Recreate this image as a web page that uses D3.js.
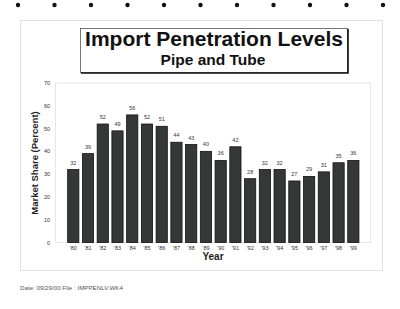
<!DOCTYPE html>
<html>
<head>
<meta charset="utf-8">
<script src="https://cdn.jsdelivr.net/npm/d3@7"></script>
<style>
  body { margin: 0; background: #fff; }
  svg { display: block; font-family: "Liberation Sans", Arial, sans-serif; }
</style>
</head>
<body>
<div id="chart"></div>
<script>
// chart values
var years = ["'80","'81","'82","'83","'84","'85","'86","'87","'88","'89",
             "'90","'91","'92","'93","'94","'95","'96","'97","'98","'99"];
var shares = [32, 39, 52, 49, 56, 52, 51, 44, 43, 40,
              36, 42, 28, 32, 32, 27, 29, 31, 35, 36];
var yTicks = [0, 10, 20, 30, 40, 50, 60, 70];

var w = 400, h = 309;
var svg = d3.select('#chart').append('svg')
    .attr('width', w)
    .attr('height', h);

svg.append('rect').attr('width', w).attr('height', h).style('fill', '#fff');

// binder holes along the top
d3.range(11).forEach(function(i) {
    svg.append('circle')
        .attr('cx', 18 + i * 36.5)
        .attr('cy', 5)
        .attr('r', 2.2)
        .style('fill', '#111');
});

// faint page frame
svg.append('rect')
    .attr('x', 20.5).attr('y', 20.5)
    .attr('width', 362).attr('height', 250)
    .style('fill', 'none')
    .style('stroke', '#e2e2e2');

// title box with shadowed right/bottom edges
svg.append('rect')
    .attr('x', 80.5).attr('y', 28.5)
    .attr('width', 267).attr('height', 44)
    .style('fill', '#fff')
    .style('stroke', '#555')
    .style('stroke-width', 0.8);
svg.append('path')
    .attr('d', 'M348,29 L348,73 L81,73')
    .style('fill', 'none')
    .style('stroke', '#111')
    .style('stroke-width', 1.6);

svg.append('text')
    .attr('x', 214).attr('y', 46)
    .style('text-anchor', 'middle')
    .style('font-weight', 'bold')
    .style('font-size', '21px')
    .style('fill', '#111')
    .text('Import Penetration Levels');
svg.append('text')
    .attr('x', 213).attr('y', 65)
    .style('text-anchor', 'middle')
    .style('font-weight', 'bold')
    .style('font-size', '15.5px')
    .style('fill', '#111')
    .text('Pipe and Tube');

// plot area
var x = d3.scaleBand()
    .domain(years)
    .range([65.9, 360.7])
    .paddingInner(0.24)
    .paddingOuter(0.12);
var y = d3.scaleLinear()
    .domain([0, 70])
    .range([242.5, 83]);

svg.append('rect')
    .attr('x', 55.5).attr('y', y(70))
    .attr('width', 315).attr('height', y(0) - y(70))
    .style('fill', 'none')
    .style('stroke', '#e6e6e6');

// y tick labels
svg.selectAll('.ytick').data(yTicks).enter().append('text')
    .attr('class', 'ytick')
    .attr('x', 50)
    .attr('y', function(d) { return y(d) + 2; })
    .style('text-anchor', 'end')
    .style('font-size', '5.5px')
    .style('fill', '#333')
    .text(function(d) { return d; });

// bars
svg.selectAll('.bar').data(shares).enter().append('rect')
    .attr('class', 'bar')
    .attr('x', function(d, i) { return x(years[i]); })
    .attr('y', function(d) { return y(d); })
    .attr('width', x.bandwidth())
    .attr('height', function(d) { return y(0) - y(d); })
    .style('fill', '#343937')
    .style('stroke', '#111')
    .style('stroke-width', 0.8);

// value labels
svg.selectAll('.val').data(shares).enter().append('text')
    .attr('class', 'val')
    .attr('x', function(d, i) { return x(years[i]) + x.bandwidth() / 2; })
    .attr('y', function(d) { return y(d) - 5; })
    .style('text-anchor', 'middle')
    .style('font-size', '5.5px')
    .style('fill', '#333')
    .text(function(d) { return d; });

// x tick labels
svg.selectAll('.xtick').data(years).enter().append('text')
    .attr('class', 'xtick')
    .attr('x', function(d) { return x(d) + x.bandwidth() / 2; })
    .attr('y', 249.5)
    .style('text-anchor', 'middle')
    .style('font-size', '5.5px')
    .style('fill', '#333')
    .text(function(d) { return d; });

// axis titles
svg.append('text')
    .attr('x', 213).attr('y', 260)
    .style('text-anchor', 'middle')
    .style('font-weight', 'bold')
    .style('font-size', '10px')
    .style('fill', '#222')
    .text('Year');
svg.append('text')
    .attr('transform', 'translate(38,163) rotate(-90)')
    .style('text-anchor', 'middle')
    .style('font-weight', 'bold')
    .style('font-size', '9.5px')
    .style('fill', '#222')
    .text('Market Share (Percent)');

// footer
svg.append('text')
    .attr('x', 20).attr('y', 290)
    .style('font-size', '6.2px')
    .style('fill', '#555')
    .text('Date: 09/29/00 File : IMPPENLV.WK4');
</script>
</body>
</html>
